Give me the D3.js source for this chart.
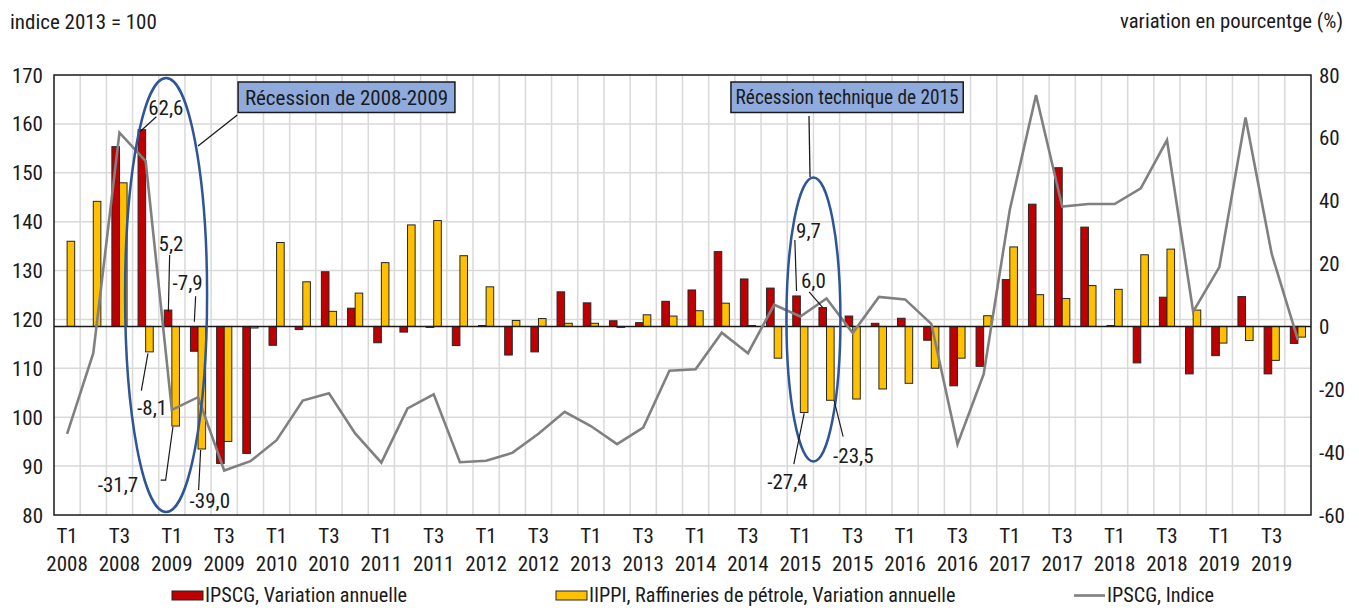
<!DOCTYPE html>
<html>
<head>
<meta charset="utf-8">
<script src="https://cdn.jsdelivr.net/npm/d3@7"></script>
<style>
  body { margin: 0; background: #fff; }
  svg text { font-family: "Liberation Sans Narrow", "Arial Narrow", "Roboto Condensed", "Liberation Sans", sans-serif; fill: #1a1a1a; }
</style>
</head>
<body>
<div class="chart"></div>
<script>
// quarters 2008 T1 .. 2019 T4
var YEARS = [2008, 2009, 2010, 2011, 2012, 2013, 2014, 2015, 2016, 2017, 2018, 2019];
var QUARTERS = ['T1', 'T2', 'T3', 'T4'];

// IPSCG, variation annuelle (%) - right axis (null = not available)
var ipscgVar = [
  null, null, 57.2, 62.6, 5.2, -7.9, -43.6, -40.4, -6.0, -1.0, 17.4, 5.8,
  -5.2, -1.8, -0.3, -6.1, 0.3, -9.1, -8.1, 11.0, 7.5, 1.8, 1.2, 8.0,
  11.6, 23.8, 15.1, 12.2, 9.7, 6.0, 3.3, 1.0, 2.6, -4.4, -18.9, -12.7,
  14.9, 38.9, 50.5, 31.6, 0.3, -11.6, 9.3, -15.1, -9.3, 9.5, -15.1, -5.4
];

// IIPPI, raffineries de pétrole, variation annuelle (%) - right axis
var iippiVar = [
  27.1, 39.8, 45.7, -8.1, -31.7, -39.0, -36.6, -0.5, 26.7, 14.2, 4.8, 10.6,
  20.3, 32.3, 33.7, 22.5, 12.6, 1.9, 2.5, 1.0, 1.0, -0.3, 3.7, 3.3,
  5.0, 7.4, 0.3, -10.1, -27.4, -23.5, -23.1, -19.9, -18.1, -13.3, -10.1, 3.4,
  25.3, 10.1, 8.9, 13.0, 11.8, 22.8, 24.6, 5.2, -5.3, -4.5, -10.8, -3.4
];

// IPSCG, indice (2013 = 100) - left axis
var ipscgIdx = [
  96.6, 113.1, 158.2, 152.4, 101.5, 104.1, 89.1, 91.0, 95.3, 103.4, 104.9, 96.7,
  90.7, 101.8, 104.7, 90.8, 91.1, 92.7, 96.6, 101.1, 98.2, 94.5, 97.9, 109.5,
  109.8, 117.3, 113.1, 123.0, 120.6, 124.3, 117.2, 124.6, 124.1, 119.1, 94.5, 108.8,
  142.5, 165.9, 143.1, 143.6, 143.6, 146.8, 156.7, 121.6, 130.7, 161.3, 133.4, 115.8
];

var LEFT_TICKS = [80, 90, 100, 110, 120, 130, 140, 150, 160, 170];
var RIGHT_TICKS = [-60, -40, -20, 0, 20, 40, 60, 80];

var SERIES = [
  { name: 'IPSCG, Variation annuelle', color: '#c00000' },
  { name: 'IIPPI, Raffineries de pétrole, Variation annuelle', color: '#ffc000' },
  { name: 'IPSCG, Indice', color: '#808080' }
];

var labels = [];
YEARS.forEach(function (y) {
  QUARTERS.forEach(function (q) { labels.push({ q: q, y: y }); });
});

var W = 1359, H = 608;
var margin = { top: 75, right: 48, bottom: 93, left: 54 };
var width = W - margin.left - margin.right,
    height = H - margin.top - margin.bottom;

var svg = d3.select('.chart').append('svg')
  .attr('width', W).attr('height', H);

var x = d3.scaleBand().domain(d3.range(labels.length))
  .range([margin.left, margin.left + width]).padding(0);
var yL = d3.scaleLinear().domain([80, 170]).range([margin.top + height, margin.top]);
var yR = d3.scaleLinear().domain([-60, 80]).range([margin.top + height, margin.top]);
var bw = x.bandwidth() * 0.29;
function cx(i) { return x(i) + x.bandwidth() / 2; }

// grid
var grid = svg.append('g');
grid.selectAll('.hg').data(LEFT_TICKS.slice(1, -1)).enter().append('line')
  .attr('x1', margin.left).attr('x2', margin.left + width)
  .attr('y1', function (d) { return yL(d); }).attr('y2', function (d) { return yL(d); })
  .attr('stroke', '#d9d9d9').attr('stroke-width', 1.5);
grid.selectAll('.vg').data(d3.range(1, labels.length)).enter().append('line')
  .attr('x1', function (d) { return x(d); }).attr('x2', function (d) { return x(d); })
  .attr('y1', margin.top).attr('y2', margin.top + height)
  .attr('stroke', '#d9d9d9').attr('stroke-width', 1.5);

// bars
function drawBars(values, color, offset) {
  svg.append('g').selectAll('rect')
    .data(values.map(function (v, i) { return { v: v, i: i }; }).filter(function (d) { return d.v !== null; }))
    .enter().append('rect')
    .attr('x', function (d) { return cx(d.i) + offset; })
    .attr('width', bw)
    .attr('y', function (d) { return Math.min(yR(d.v), yR(0)); })
    .attr('height', function (d) { return Math.abs(yR(d.v) - yR(0)); })
    .attr('fill', color)
    .attr('stroke', '#262626').attr('stroke-width', 1);
}
drawBars(ipscgVar, SERIES[0].color, -bw);
drawBars(iippiVar, SERIES[1].color, 0);

// zero line of right axis
svg.append('line')
  .attr('x1', margin.left).attr('x2', margin.left + width)
  .attr('y1', yR(0)).attr('y2', yR(0))
  .attr('stroke', '#1a1a1a').attr('stroke-width', 1.5);

// index line
svg.append('path')
  .datum(ipscgIdx)
  .attr('fill', 'none')
  .attr('stroke', SERIES[2].color).attr('stroke-width', 2.6)
  .attr('d', d3.line().x(function (d, i) { return cx(i); }).y(function (d) { return yL(d); }));

// frame
svg.append('rect')
  .attr('x', margin.left).attr('y', margin.top)
  .attr('width', width).attr('height', height)
  .attr('fill', 'none').attr('stroke', '#1a1a1a').attr('stroke-width', 1.5);

// axes labels
svg.append('g').selectAll('text').data(LEFT_TICKS).enter().append('text')
  .attr('x', margin.left - 11).attr('y', function (d) { return yL(d); })
  .attr('dy', '0.36em').attr('text-anchor', 'end')
  .style('font-size', '21px').text(function (d) { return d; });
svg.append('g').selectAll('text').data(RIGHT_TICKS).enter().append('text')
  .attr('x', margin.left + width + 8).attr('y', function (d) { return yR(d); })
  .attr('dy', '0.36em').attr('text-anchor', 'start')
  .style('font-size', '21px').text(function (d) { return d; });

var xl = svg.append('g').selectAll('g')
  .data(labels.map(function (d, i) { return { d: d, i: i }; }).filter(function (d) { return d.i % 2 === 0; }))
  .enter().append('g');
xl.append('text').attr('x', function (d) { return cx(d.i); }).attr('y', 535)
  .attr('dy', '0.36em').attr('text-anchor', 'middle').style('font-size', '21px')
  .text(function (d) { return d.d.q; });
xl.append('text').attr('x', function (d) { return cx(d.i); }).attr('y', 563)
  .attr('dy', '0.36em').attr('text-anchor', 'middle').style('font-size', '21px')
  .text(function (d) { return d.d.y; });

svg.append('text').attr('x', 10).attr('y', 21).attr('dy', '0.36em')
  .style('font-size', '21px').text('indice 2013 = 100');
svg.append('text').attr('x', 1343).attr('y', 21).attr('dy', '0.36em')
  .attr('text-anchor', 'end').style('font-size', '20.7px').text('variation en pourcentge (%)');

// legend
var LEG = [
  { s: 0, x: 172, type: 'rect' },
  { s: 1, x: 556, type: 'rect' },
  { s: 2, x: 1074, type: 'line' }
];
var leg = svg.append('g').selectAll('g').data(LEG).enter().append('g')
  .attr('transform', function (d) { return 'translate(' + d.x + ',595.5)'; });
leg.filter(function (d) { return d.type === 'rect'; }).append('rect')
  .attr('x', 0).attr('y', -4.5).attr('width', 31).attr('height', 9)
  .attr('fill', function (d) { return SERIES[d.s].color; })
  .attr('stroke', '#262626').attr('stroke-width', 1);
leg.filter(function (d) { return d.type === 'line'; }).append('line')
  .attr('x1', 0).attr('x2', 31).attr('y1', 0).attr('y2', 0)
  .attr('stroke', SERIES[2].color).attr('stroke-width', 2.6);
leg.append('text').attr('x', 33).attr('y', 0).attr('dy', '0.34em')
  .style('font-size', '20.2px').text(function (d) { return SERIES[d.s].name; });

// recession ellipses (centre as category position / left-axis value)
var ELLIPSES = [
  { c: 4.28, v: 125, rx: 41, ry: 217 },
  { c: 29.0, v: 120, rx: 27, ry: 142 }
];
svg.append('g').selectAll('ellipse').data(ELLIPSES).enter().append('ellipse')
  .attr('cx', function (d) { return margin.left + d.c * x.bandwidth(); })
  .attr('cy', function (d) { return yL(d.v); })
  .attr('rx', function (d) { return d.rx; }).attr('ry', function (d) { return d.ry; })
  .attr('fill', 'none').attr('stroke', '#2f5597').attr('stroke-width', 2.5);

// callouts
var CALLOUTS = [
  { text: 'Récession de 2008-2009', size: 21, c0: 7.03, c1: 15.31, lead: [[7.0, 115], [5.5, 146]] },
  { text: 'Récession technique de 2015', size: 19.3, c0: 25.85, c1: 34.72, lead: [[28.83, 116], [28.87, 177]] }
];
function cp(c) { return margin.left + c * x.bandwidth(); }
CALLOUTS.forEach(function (d) {
  svg.append('line')
    .attr('x1', cp(d.lead[0][0])).attr('y1', d.lead[0][1])
    .attr('x2', cp(d.lead[1][0])).attr('y2', d.lead[1][1])
    .attr('stroke', '#1a1a1a').attr('stroke-width', 1.3);
  svg.append('rect')
    .attr('x', cp(d.c0)).attr('y', 82)
    .attr('width', cp(d.c1) - cp(d.c0)).attr('height', 30.5)
    .attr('fill', '#8faadc').attr('stroke', '#1a1a1a').attr('stroke-width', 1.5);
  svg.append('text')
    .attr('x', (cp(d.c0) + cp(d.c1)) / 2).attr('y', 97.5).attr('dy', '0.36em')
    .attr('text-anchor', 'middle').style('font-size', d.size + 'px').text(d.text);
});

// data labels: anchored on the end of the bar
var DATA_LABELS = [
  { i: 3,  s: 0, t: [24, -22],    l: [[14.5, -13], [-2, 2]] },
  { i: 4,  s: 0, t: [3, -67],     l: [[1.6, -55], [0.3, 1.6]] },
  { i: 5,  s: 0, t: [-6.6, -68.5], l: [[1.4, -55], [0.1, -29.5]] },
  { i: 3,  s: 1, t: [2.7, 56],    l: [[-1.5, 1.4], [-8.1, 38.8]] },
  { i: 4,  s: 1, t: [-57.7, 58],  l: [[-2.7, 0.7], [-10, 54], [-15, 54]] },
  { i: 5,  s: 1, t: [8, 51],      l: [[-1.2, 1], [-3.2, 41]] },
  { i: 28, s: 0, t: [12, -66],    l: [[-1.7, -56], [0, -5]] },
  { i: 29, s: 0, t: [-9.4, -27.5], l: [[-13.6, -15.8], [-0.2, -0.2]] },
  { i: 28, s: 1, t: [-16.7, 69],  l: [[0, 0.8], [-10.3, 51.5]] },
  { i: 29, s: 1, t: [23, 54.7],   l: [[3.8, 0.4], [12.8, 36.4]] }
];
var fmt = function (v) { return d3.format('.1f')(v).replace('.', ',').replace('−', '-'); };
DATA_LABELS.forEach(function (d) {
  var v = d.s === 0 ? ipscgVar[d.i] : iippiVar[d.i];
  var ax = cx(d.i) + (d.s === 0 ? -bw / 2 : bw / 2);
  var ay = yR(v);
  svg.append('path')
    .attr('d', d3.line()(d.l.map(function (p) { return [ax + p[0], ay + p[1]]; })))
    .attr('fill', 'none').attr('stroke', '#1a1a1a').attr('stroke-width', 1.2);
  svg.append('text')
    .attr('x', ax + d.t[0]).attr('y', ay + d.t[1]).attr('dy', '0.36em')
    .attr('text-anchor', 'middle').style('font-size', '21px')
    .text(fmt(v));
});
</script>
</body>
</html>
